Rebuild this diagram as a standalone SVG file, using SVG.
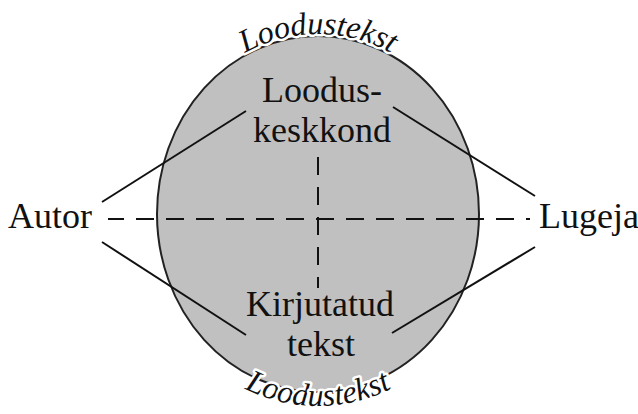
<svg xmlns="http://www.w3.org/2000/svg" width="638" height="414" viewBox="0 0 638 414">
<defs>
<style>
.lbl{font-family:"Liberation Serif","Times New Roman",serif;font-size:36px;fill:#111;}
.arc{font-family:"Liberation Serif","DejaVu Serif","Times New Roman",serif;font-style:italic;font-size:32px;fill:#111;stroke:#fff;stroke-width:5px;paint-order:stroke;stroke-linejoin:round;}
.ln{stroke:#111;stroke-width:2;fill:none;}
.dash{stroke:#111;stroke-width:2;fill:none;stroke-dasharray:18 12;}
</style>
<path id="topArc" d="M 154,214 A 164 180 0 0 1 482,214"/>
<path id="botArc" d="M 141,214 A 177 192 0 0 0 495,214"/>
</defs>
<rect width="638" height="414" fill="#fff"/>
<g id="ellipse">
<ellipse cx="318" cy="214" rx="161" ry="178" fill="#c0c0c0" stroke="#222" stroke-width="2"/>
</g>
<g id="connectors">
<line class="ln" x1="102" y1="202" x2="246" y2="111"/>
<line class="ln" x1="102" y1="242" x2="246" y2="335"/>
<line class="ln" x1="393" y1="107" x2="535" y2="196"/>
<line class="ln" x1="392" y1="333" x2="535" y2="247"/>
<line class="dash" x1="108" y1="219" x2="530" y2="219" stroke-dashoffset="2"/>
<line class="dash" x1="318" y1="157" x2="318" y2="288"/>
</g>
<g id="arc-top">
<text class="arc"><textPath href="#topArc" startOffset="50%" text-anchor="middle">Loodustekst</textPath></text>
</g>
<g id="arc-bottom">
<text class="arc"><textPath href="#botArc" startOffset="50%" text-anchor="middle">Loodustekst</textPath></text>
</g>
<g id="autor"><text class="lbl" x="8" y="228">Autor</text></g>
<g id="lugeja"><text class="lbl" x="539" y="228">Lugeja</text></g>
<g id="loodus">
<text class="lbl" x="322" y="102" text-anchor="middle">Loodus-</text>
<text class="lbl" x="322" y="142" text-anchor="middle">keskkond</text>
</g>
<g id="kirjutatud">
<text class="lbl" x="320" y="316" text-anchor="middle">Kirjutatud</text>
<text class="lbl" x="321" y="356" text-anchor="middle">tekst</text>
</g>
</svg>
